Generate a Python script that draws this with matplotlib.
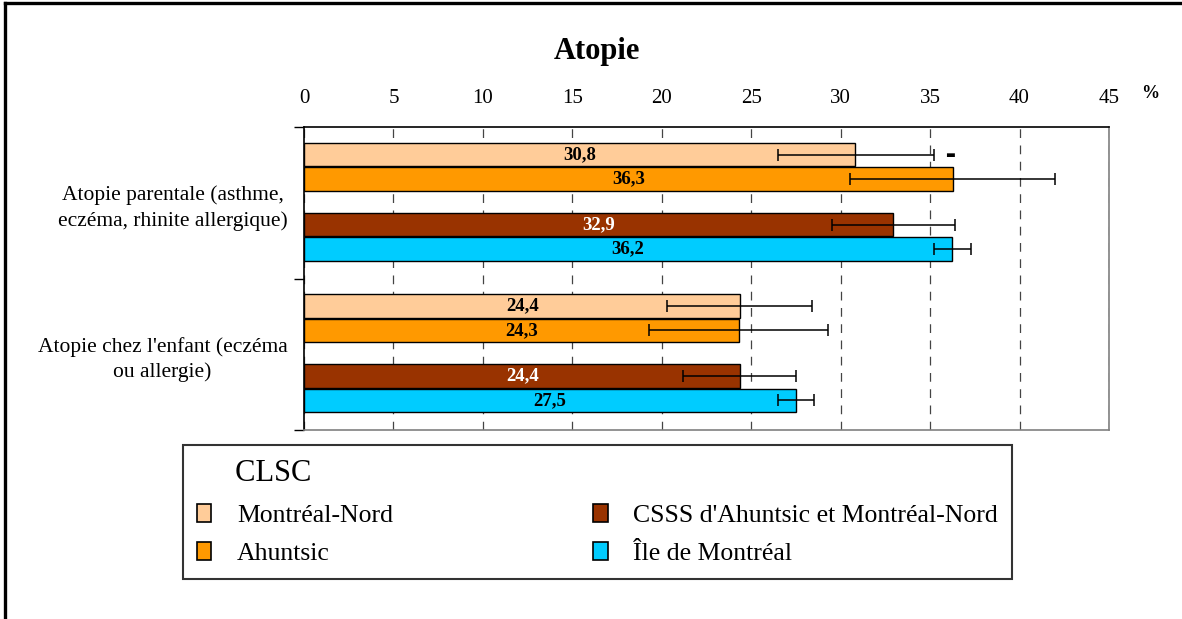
import numpy as np
import matplotlib
matplotlib.use("Agg")
import matplotlib.pyplot as plt
from matplotlib.lines import Line2D

plt.rcParams['font.family'] = ['Liberation Serif', 'DejaVu Serif']

# data
categories = ["Atopie parentale (asthme,\neczéma, rhinite allergique)",
              "Atopie chez l'enfant (eczéma\nou allergie)"]
series = ["Montréal-Nord", "Ahuntsic", "CSSS d'Ahuntsic et Montréal-Nord", "Île de Montréal"]
values = [[30.8, 24.4], [36.3, 24.3], [32.9, 24.4], [36.2, 27.5]]
ci_low = [[26.5, 20.3], [30.5, 19.3], [29.5, 21.2], [35.2, 26.5]]
ci_high = [[35.2, 28.4], [42.0, 29.3], [36.4, 27.5], [37.3, 28.5]]
signif = [["-", ""], ["", ""], ["", ""], ["", ""]]
colors = ["#FFCC99", "#FF9900", "#993300", "#00CCFF"]
label_colors = ["black", "black", "white", "black"]
xticks = [0, 5, 10, 15, 20, 25, 30, 35, 40, 45]

fig = plt.figure(figsize=(11.82, 6.19), dpi=100)
ax = fig.add_axes([304 / 1182, 1 - 430 / 619, (1109 - 304) / 1182, (430 - 127) / 619])

offsets = [-0.317, -0.158, 0.145, 0.304]
bar_h = 0.155
y = np.arange(len(categories)) + 0.5

for j in range(len(series)):
    v = np.array(values[j])
    lo = v - np.array(ci_low[j])
    hi = np.array(ci_high[j]) - v
    pos = y + offsets[j]
    ax.barh(pos, v, height=bar_h, color=colors[j], edgecolor="black", linewidth=1.0,
            label=series[j], zorder=3)
    ax.errorbar(v, pos, xerr=[lo, hi], fmt="none", ecolor="black", elinewidth=1.1,
                capsize=4.5, capthick=1.1, zorder=4)
    for k in range(len(categories)):
        ax.text(v[k] / 2, pos[k], f"{v[k]:.1f}".replace(".", ","), ha="center", va="center",
                fontsize=13.5, fontweight="bold", color=label_colors[j], zorder=5)
        if signif[j][k]:
            ax.text(ci_high[j][k] + 0.9, pos[k], "\u25ac", ha="center", va="center",
                    fontsize=7.5, family="DejaVu Sans", color="black", zorder=5)

ax.set_xlim(0, 45)
ax.set_ylim(2, 0)
ax.xaxis.tick_top()
ax.set_xticks(xticks)
ax.tick_params(axis="x", length=0, pad=14, labelsize=15)
ax.set_yticks([0, 1, 2])
ax.set_yticklabels([])
ax.set_yticks(y, minor=True)
ax.set_yticklabels(categories, minor=True, fontsize=15.5, ma="center", linespacing=1.4)
ax.tick_params(axis="y", which="major", length=7, width=1, direction="out")
ax.tick_params(axis="y", which="minor", length=0, pad=12)

ax.grid(axis="x", color="#444444", linestyle=(0, (7, 6)), linewidth=0.9, zorder=0)
ax.set_axisbelow(True)
ax.spines["left"].set_color("black")
ax.spines["top"].set_color("black")
ax.spines["right"].set_color("#808080")
ax.spines["bottom"].set_color("#808080")
for s in ax.spines.values():
    s.set_linewidth(1.2)

fig.text(597 / 1182, 1 - 52 / 619, "Atopie", ha="center", va="center",
         fontsize=22, fontweight="bold")
fig.text(1150 / 1182, 1 - 94 / 619, "%", ha="center", va="center",
         fontsize=13, fontweight="bold")

leg = fig.legend(loc="upper left", bbox_to_anchor=(183 / 1182, 1 - 445 / 619),
                 borderaxespad=0, ncol=2, title="     CLSC", title_fontsize=22,
                 fontsize=18.5, alignment="left", frameon=True, fancybox=False,
                 edgecolor="black", handlelength=0.55, handleheight=0.7,
                 handletextpad=1.0, columnspacing=7.8, labelspacing=0.6, borderpad=0.55)
leg.get_frame().set_linewidth(1.5)
for h in leg.legend_handles:
    h.set_edgecolor("black")
    h.set_linewidth(1.2)

# outer border (left and top)
fig.add_artist(Line2D([5 / 1182, 5 / 1182], [0, 1 - 3 / 619], color="black", lw=2.4,
                      transform=fig.transFigure))
fig.add_artist(Line2D([5 / 1182, 1], [1 - 3 / 619, 1 - 3 / 619], color="black", lw=2.4,
                      transform=fig.transFigure))

fig.savefig("out.png", dpi=100)
